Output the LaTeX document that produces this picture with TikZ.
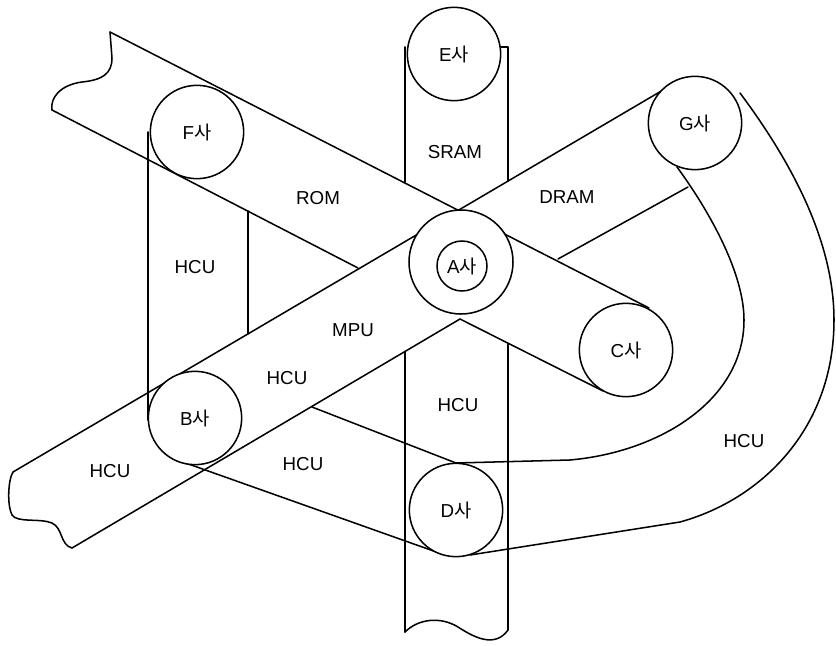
\documentclass[tikz,border=0pt]{standalone}
\usepackage{fontspec}
\setmainfont{Liberation Sans}
\newfontfamily\kr{Noto Sans CJK KR}
\newcommand\sa{{\kr 사}}

\begin{document}
\begin{tikzpicture}[x=0.03cm,y=-0.03cm,
	belt/.style={line width=1.3pt,line join=round,line cap=round},
	pulley/.style={circle,draw,line width=1.3pt,fill=white,inner sep=0pt,minimum size=2.8cm,font=\fontsize{16}{16}\selectfont},
	lbl/.style={font=\fontsize{16}{16}\selectfont}]
	\useasboundingbox (0,0) rectangle (836,646);

	% ROM band
	\draw [belt](110,32) -- (649,308);
	\draw [belt](52,110) -- (358,268);
	\draw [belt](460,319) -- (603,391);
	\draw [belt](52,110) .. controls (50,98) and (60,85) .. (82,82) .. controls (102,80) and (112,74) .. (112,58) -- (110,32);

	% MPU band
	\draw [belt](13,472) -- (663,90);
	\draw [belt](72,548) -- (460,319);
	\draw [belt](558,259) -- (688,187);
	\draw [belt](13,472) .. controls (8,480) and (7,505) .. (12,515) .. controls (17,523) and (40,518) .. (52,523) .. controls (63,528) and (60,545) .. (72,548);

	% SRAM band
	\draw [belt](405,47) -- (405,182);
	\draw [belt](500,47) -- (508,47) -- (508,181);
	\draw [belt](405,352) -- (405,632);
	\draw [belt](508,344) -- (508,630);
	\draw [belt](405,632) .. controls (418,619) and (440,616) .. (458,627) .. controls (475,638) and (495,648) .. (508,630);

	% HCU band F-B
	\draw [belt](148,132) -- (148,420);
	\draw [belt](248,211) -- (248,334);

	% HCU bands B-D and D-G
	\draw [belt](180,461) -- (442,554);
	\draw [belt](312,407) -- (456,463) -- (570,460) .. controls (660,452) and (744,400) .. (744,320) .. controls (744,270) and (705,205) .. (677,167);
	\draw [belt](740,93) .. controls (790,160) and (834,240) .. (834,320) .. controls (834,430) and (760,500) .. (680,522) -- (470,555);

	% pulleys
	\node[pulley] (E) at (454,54) {E\sa};
	\node[pulley] (F) at (197,132) {F\sa};
	\node[pulley] (G) at (695,123) {G\sa};
	\node[pulley,minimum size=3.12cm] (A) at (461,262) {};
	\node[pulley,minimum size=1.5cm] (Ai) at (462,266) {A\sa};
	\node[pulley] (C) at (626,350) {C\sa};
	\node[pulley] (B) at (195,418) {B\sa};
	\node[pulley] (D) at (456,510) {D\sa};

	% labels
	\node[lbl] (sram) at (455,152) {SRAM};
	\node[lbl] (rom) at (318,198) {ROM};
	\node[lbl] (dram) at (567,197) {DRAM};
	\node[lbl] (mpu) at (353,330) {MPU};
	\node[lbl] (hcuFB) at (195,267) {HCU};
	\node[lbl] (hcuMB) at (287,378) {HCU};
	\node[lbl] (hcuS) at (458,405) {HCU};
	\node[lbl] (hcuL) at (110,471) {HCU};
	\node[lbl] (hcuBD) at (303,464) {HCU};
	\node[lbl] (hcuDG) at (744,441) {HCU};
\end{tikzpicture}
\end{document}
